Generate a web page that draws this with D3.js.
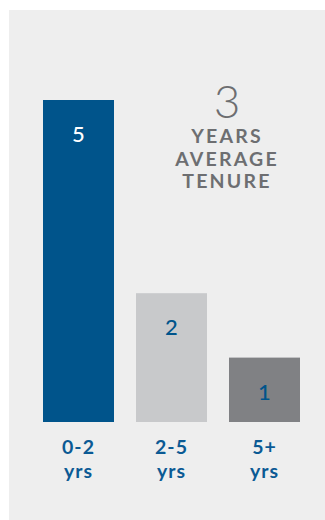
<!DOCTYPE html>
<html>
<head>
<meta charset="utf-8">
<script src="https://cdn.jsdelivr.net/npm/d3@7"></script>
<style>
  html, body { margin: 0; padding: 0; background: #ffffff; }
  svg { display: block; }
</style>
</head>
<body>
<svg id="chart" width="325" height="520"></svg>
<script>
const categories = ["0-2", "2-5", "5+"];
const categoryUnits = ["yrs", "yrs", "yrs"];
const values = [5, 2, 1];
const barColors = ["#00548b", "#c8c9cb", "#808184"];
const labelColors = ["#ffffff", "#00548b", "#00548b"];
const headlineNumber = "3";
const headlineLines = ["YEARS", "AVERAGE", "TENURE"];

const svg = d3.select("#chart");
const W = 325, H = 520;

svg.append("rect")
  .attr("x", 9).attr("y", 10)
  .attr("width", W - 9).attr("height", H - 10)
  .attr("fill", "#eeeeee");

const x = d3.scaleBand()
  .domain(categories)
  .range([43, 300])
  .paddingInner(0.2366)
  .paddingOuter(0);

const y = d3.scaleLinear()
  .domain([0, 5])
  .range([422, 100]);

const font = "Lato, 'Open Sans', sans-serif";

svg.selectAll("rect.bar")
  .data(values)
  .enter().append("rect")
  .attr("class", "bar")
  .attr("x", (d, i) => x(categories[i]))
  .attr("y", d => y(d))
  .attr("width", x.bandwidth())
  .attr("height", d => y(0) - y(d))
  .attr("fill", (d, i) => barColors[i]);

svg.selectAll("text.val")
  .data(values)
  .enter().append("text")
  .attr("class", "val")
  .attr("x", (d, i) => x(categories[i]) + x.bandwidth() / 2)
  .attr("y", d => y(d) + 42)
  .attr("text-anchor", "middle")
  .attr("font-family", font)
  .attr("font-weight", 500)
  .attr("font-size", 22)
  .attr("fill", (d, i) => labelColors[i])
  .text(d => d);

const cat = svg.selectAll("g.cat")
  .data(categories)
  .enter().append("g")
  .attr("class", "cat")
  .attr("transform", d => `translate(${x(d) + x.bandwidth() / 2},0)`);

cat.append("text")
  .attr("y", 454)
  .attr("text-anchor", "middle")
  .attr("font-family", font)
  .attr("font-weight", 700)
  .attr("font-size", 19.5)
  .attr("letter-spacing", 1)
  .attr("fill", "#0b5a94")
  .text(d => d);

cat.append("text")
  .attr("y", 478)
  .attr("text-anchor", "middle")
  .attr("font-family", font)
  .attr("font-weight", 700)
  .attr("font-size", 19.5)
  .attr("letter-spacing", 1)
  .attr("fill", "#0b5a94")
  .text((d, i) => categoryUnits[i]);

const cx = 227;
svg.append("text")
  .attr("x", cx).attr("y", 118)
  .attr("text-anchor", "middle")
  .attr("font-family", font)
  .attr("font-weight", 300)
  .attr("font-size", 46)
  .attr("fill", "#6d6e71")
  .text(headlineNumber);

svg.selectAll("text.head")
  .data(headlineLines)
  .enter().append("text")
  .attr("class", "head")
  .attr("x", cx)
  .attr("y", (d, i) => 143 + i * 22.5)
  .attr("text-anchor", "middle")
  .attr("font-family", font)
  .attr("font-weight", 700)
  .attr("font-size", 19.5)
  .attr("letter-spacing", 2.2)
  .attr("fill", "#6d6e71")
  .text(d => d);
</script>
</body>
</html>
